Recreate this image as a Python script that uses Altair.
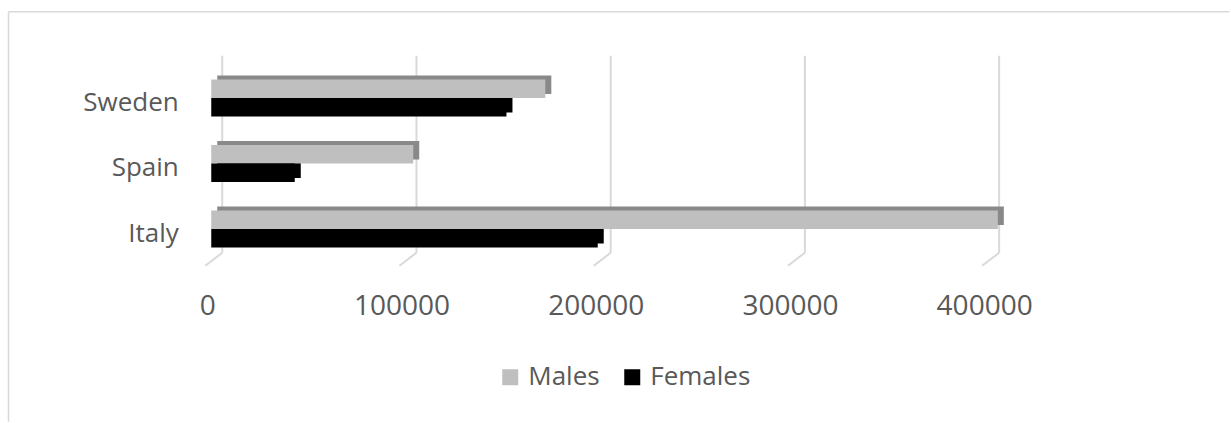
import altair as alt
import pandas as pd

# Source figures
countries = ["Sweden", "Spain", "Italy"]
series = ["Males", "Females"]
males = [172000, 104000, 405000]
females = [152000, 43000, 199000]
grid_values = [0, 100000, 200000, 300000, 400000]

face_colors = ["#bfbfbf", "#000000"]
depth_colors = {"Males": "#898989", "Females": "#000000"}

rows = []
for c, m, f in zip(countries, males, females):
    rows.append({"country": c, "series": "Males", "value": m, "depth": depth_colors["Males"]})
    rows.append({"country": c, "series": "Females", "value": f, "depth": depth_colors["Females"]})
df = pd.DataFrame(rows)
grid_df = pd.DataFrame({"v": grid_values})
one = pd.DataFrame({"k": [0]})

FONT = "Open Sans"
TEXT = "#595959"
GRID = "#d9d9d9"

x_scale = alt.Scale(domain=[0, 450000], nice=False, zero=False)
y_scale = alt.Scale(domain=countries, paddingInner=0.435, paddingOuter=0.2175)

x_axis = alt.Axis(
    values=grid_values, format="d", title=None, grid=False, domain=False, ticks=False,
    labelFont=FONT, labelFontSize=28, labelColor=TEXT, labelOffset=-4, labelPadding=31,
    labelFlush=False,
)
y_axis = alt.Axis(
    title=None, grid=False, domain=False, ticks=False,
    labelFont=FONT, labelFontSize=26, labelColor=TEXT, labelOffset=4.5, labelPadding=33,
)

# Chart frame (top and left edges)
frame_top = alt.Chart(one).mark_rule(color="#d9d9d9", strokeWidth=1.5).encode(
    x=alt.value(-202.75), x2=alt.value(1018), y=alt.value(-53.5)
)
frame_left = alt.Chart(one).mark_rule(color="#d9d9d9", strokeWidth=1.5).encode(
    x=alt.value(-202.75), y=alt.value(-53.5), y2=alt.value(356.5)
)

# Back-wall gridlines and their floor segments
grid = alt.Chart(grid_df).mark_rule(xOffset=11, color=GRID, strokeWidth=2).encode(
    x=alt.X("v:Q", scale=x_scale, axis=x_axis),
    y=alt.value(-9.5),
    y2=alt.value(187.5),
)
floor = alt.Chart(grid_df).mark_rule(xOffset=11, x2Offset=-6, color=GRID, strokeWidth=2).encode(
    x=alt.X("v:Q", scale=x_scale, axis=x_axis),
    x2=alt.X2("v"),
    y=alt.value(187.5),
    y2=alt.value(200.5),
)

# Depth faces of the bars: the same bars nudged right and raised by 4 px
depth = alt.Chart(df).mark_bar(xOffset=6, x2Offset=2).encode(
    x=alt.X("value:Q", scale=x_scale, axis=x_axis),
    y=alt.Y("country:N", scale=y_scale, sort=countries, axis=y_axis),
    yOffset=alt.YOffset("series:N", sort=series, scale=alt.Scale(range=[-4, 33.0])),
    color=alt.Color("depth:N", scale=None),
)

front = alt.Chart(df).mark_bar().encode(
    x=alt.X("value:Q", scale=x_scale, axis=x_axis),
    y=alt.Y("country:N", scale=y_scale, sort=countries, axis=y_axis),
    yOffset=alt.YOffset("series:N", sort=series),
    color=alt.Color(
        "series:N",
        scale=alt.Scale(domain=series, range=face_colors),
        legend=alt.Legend(
            orient="none", legendX=286, legendY=299, direction="horizontal", title=None,
            symbolType="square", symbolSize=256, symbolStrokeWidth=0,
            labelFont=FONT, labelFontSize=26, labelColor=TEXT, labelOffset=5,
            columnPadding=19, padding=0,
        ),
    ),
)

chart = (
    alt.layer(frame_top, frame_left, grid, floor, depth, front)
    .resolve_scale(yOffset="independent")
    .properties(
        width=874, height=196.5,
        padding={"left": 7.25, "top": 10.25, "right": 0, "bottom": 0},
        background="white",
    )
    .configure_view(stroke=None)
)

chart.save("out.html", embed_options={"renderer": "svg", "actions": False})
